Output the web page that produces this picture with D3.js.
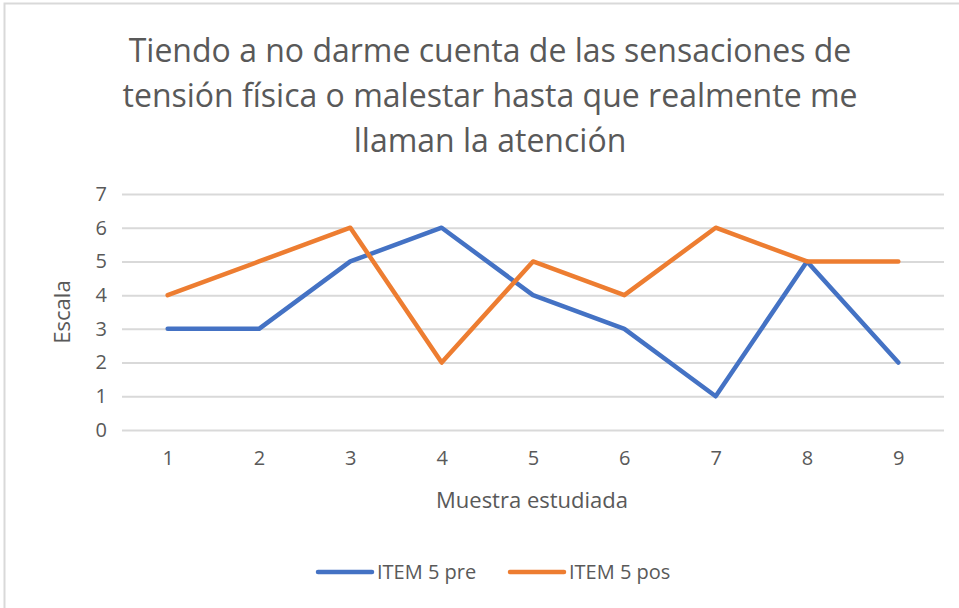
<!DOCTYPE html>
<html>
<head>
<meta charset="utf-8">
<script src="https://cdn.jsdelivr.net/npm/d3@7"></script>
<style>
  body { margin: 0; background: #fff; }
  text { font-family: "Open Sans", "Noto Sans", sans-serif; fill: #595959; }
</style>
</head>
<body>
<div id="chart"></div>
<script>
var muestras = [1, 2, 3, 4, 5, 6, 7, 8, 9];
var itemPre = [3, 3, 5, 6, 4, 3, 1, 5, 2];
var itemPos = [4, 5, 6, 2, 5, 4, 6, 5, 5];
var yTicks = [0, 1, 2, 3, 4, 5, 6, 7];
var titleLines = ["Tiendo a no darme cuenta de las sensaciones de",
                  "tensión física o malestar hasta que realmente me",
                  "llaman la atención"];

var width = 959, height = 608;
var margin = { top: 194, right: 15, bottom: 178, left: 122 };

var svg = d3.select("#chart").append("svg")
  .attr("width", width).attr("height", height);

// chart frame
svg.append("rect")
  .attr("x", 4.5).attr("y", 3.5)
  .attr("width", width + 10).attr("height", height + 10)
  .attr("fill", "#fff").attr("stroke", "#d9d9d9").attr("stroke-width", 2);

var x = d3.scalePoint()
  .domain(muestras)
  .range([margin.left, width - margin.right])
  .padding(0.5);

var y = d3.scaleLinear()
  .domain([0, 7])
  .range([height - margin.bottom, margin.top]);

// title
svg.append("g").selectAll("text")
  .data(titleLines)
  .enter().append("text")
  .attr("x", 490)
  .attr("y", function(d, i) { return 62 + i * 45; })
  .attr("text-anchor", "middle")
  .style("font-size", "32px")
  .text(function(d) { return d; });

// gridlines + y labels
var yAxis = d3.axisLeft(y)
  .tickValues(yTicks)
  .tickFormat(d3.format("d"))
  .tickSize(-(width - margin.right - margin.left))
  .tickPadding(15);

svg.append("g")
  .attr("transform", "translate(" + margin.left + ",0)")
  .call(yAxis)
  .call(function(g) {
    g.select(".domain").remove();
    g.selectAll("line").attr("stroke", "#d9d9d9").attr("stroke-width", 2);
    g.selectAll("text").style("font-size", "20px").attr("fill", "#595959");
  });

// x labels
var xAxis = d3.axisBottom(x).tickSize(0).tickPadding(21);
svg.append("g")
  .attr("transform", "translate(0," + y(0) + ")")
  .call(xAxis)
  .call(function(g) {
    g.select(".domain").remove();
    g.selectAll("text").style("font-size", "20px").attr("fill", "#595959");
  });

// axis titles
svg.append("text")
  .attr("transform", "translate(70," + y(3.5) + ") rotate(-90)")
  .attr("text-anchor", "middle")
  .style("font-size", "22px")
  .text("Escala");

svg.append("text")
  .attr("x", 532).attr("y", 508)
  .attr("text-anchor", "middle")
  .style("font-size", "22px")
  .text("Muestra estudiada");

// lines
var series = [
  { name: "ITEM 5 pre", values: itemPre, color: "#4472C4" },
  { name: "ITEM 5 pos", values: itemPos, color: "#ED7D31" }
];

var line = d3.line()
  .x(function(d, i) { return x(muestras[i]); })
  .y(function(d) { return y(d); });

svg.append("g").selectAll("path")
  .data(series)
  .enter().append("path")
  .attr("d", function(d) { return line(d.values); })
  .attr("fill", "none")
  .attr("stroke", function(d) { return d.color; })
  .attr("stroke-width", 4.5)
  .attr("stroke-linejoin", "round")
  .attr("stroke-linecap", "round");

// legend
var legendX = [318, 510];
var legend = svg.append("g").selectAll("g")
  .data(series)
  .enter().append("g")
  .attr("transform", function(d, i) { return "translate(" + legendX[i] + ",572)"; });

legend.append("line")
  .attr("x1", 0).attr("x2", 54)
  .attr("stroke", function(d) { return d.color; })
  .attr("stroke-width", 4.5)
  .attr("stroke-linecap", "round");

legend.append("text")
  .attr("x", 59).attr("y", 7)
  .style("font-size", "20px")
  .text(function(d) { return d.name; });
</script>
</body>
</html>
